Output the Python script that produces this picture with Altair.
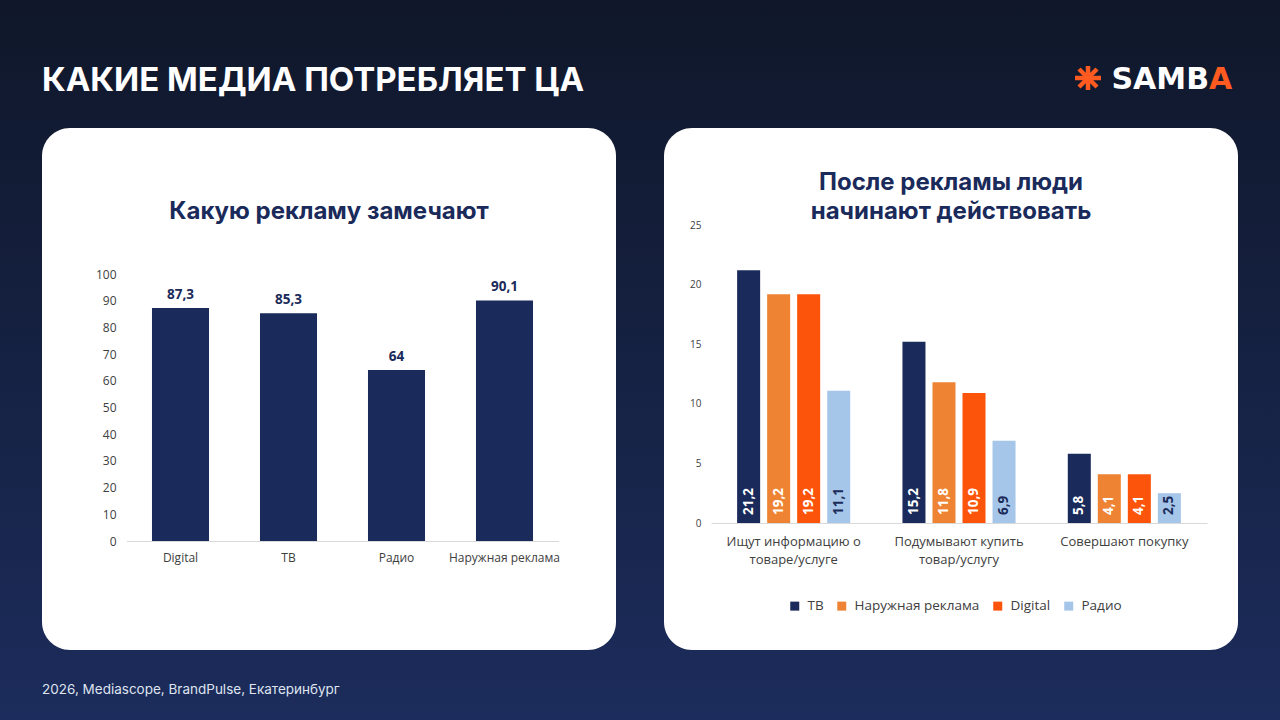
import altair as alt
import pandas as pd

# ---- data -------------------------------------------------------------
notice_media = ["Digital", "ТВ", "Радио", "Наружная реклама"]
notice_share = [87.3, 85.3, 64, 90.1]
left_ticks = [0, 10, 20, 30, 40, 50, 60, 70, 80, 90, 100]

stages = ["Ищут информацию о|товаре/услуге", "Подумывают купить|товар/услугу", "Совершают покупку"]
channels = ["ТВ", "Наружная реклама", "Digital", "Радио"]
channel_colors = ["#1a2a5a", "#ee8433", "#fd540b", "#a5c6e8"]
tv_values = [21.2, 15.2, 5.8]
outdoor_values = [19.2, 11.8, 4.1]
digital_values = [19.2, 10.9, 4.1]
radio_values = [11.1, 6.9, 2.5]
right_ticks = [0, 5, 10, 15, 20, 25]

NAVY = "#1a2a5a"
AXIS_TEXT = "#404040"
CHART_FONT = "Open Sans"
HEAD_FONT = "Inter"

left_df = pd.DataFrame({"media": notice_media, "share": notice_share})

rows = []
for ch, vals in zip(channels, [tv_values, outdoor_values, digital_values, radio_values]):
    for st, v in zip(stages, vals):
        rows.append({"stage": st, "channel": ch, "value": v})
right_df = pd.DataFrame(rows)

one = alt.Data(values=[{}])

# ---- slide decoration -------------------------------------------------
background = alt.Chart(one).mark_rect(
    fill=alt.LinearGradient(
        gradient="linear",
        stops=[alt.GradientStop(color="#0f1729", offset=0),
               alt.GradientStop(color="#1c2c5c", offset=1)],
        x1=0, x2=0, y1=0, y2=1,
    )
).encode(x=alt.value(0), x2=alt.value(1280), y=alt.value(0), y2=alt.value(720))

panel_left = alt.Chart(one).mark_rect(fill="white", cornerRadius=28).encode(
    x=alt.value(42), x2=alt.value(616), y=alt.value(128), y2=alt.value(650))
panel_right = alt.Chart(one).mark_rect(fill="white", cornerRadius=28).encode(
    x=alt.value(664), x2=alt.value(1238), y=alt.value(128), y2=alt.value(650))

heading = alt.Chart(one).mark_text(
    text="КАКИЕ МЕДИА ПОТРЕБЛЯЕТ ЦА", font=HEAD_FONT, fontSize=33, fontWeight=700,
    color="white", align="left", baseline="alphabetic",
).encode(x=alt.value(42), y=alt.value(91))

footer = alt.Chart(one).mark_text(
    text="2026, Mediascope, BrandPulse, Екатеринбург", font=HEAD_FONT, fontSize=13.5,
    color="#dfe4ef", align="left", baseline="alphabetic",
).encode(x=alt.value(42), y=alt.value(694))

# logo: eight-spoke asterisk + wordmark
LOGO_ORANGE = "#ff5a1f"
spokes = [
    alt.Chart(one).mark_rule(color=LOGO_ORANGE, strokeWidth=4.5).encode(
        x=alt.value(1075), x2=alt.value(1101), y=alt.value(78), y2=alt.value(78)),
    alt.Chart(one).mark_rule(color=LOGO_ORANGE, strokeWidth=4.5).encode(
        x=alt.value(1088), x2=alt.value(1088), y=alt.value(66), y2=alt.value(90)),
    alt.Chart(one).mark_rule(color=LOGO_ORANGE, strokeWidth=4.5).encode(
        x=alt.value(1079), x2=alt.value(1097), y=alt.value(69), y2=alt.value(87)),
    alt.Chart(one).mark_rule(color=LOGO_ORANGE, strokeWidth=4.5).encode(
        x=alt.value(1079), x2=alt.value(1097), y=alt.value(87), y2=alt.value(69)),
]
logo_word = alt.Chart(one).mark_text(
    text="SAMB", font="DejaVu Sans", fontSize=30, fontWeight="bold", color="white",
    align="right", baseline="alphabetic",
).encode(x=alt.value(1209), y=alt.value(89))
logo_a = alt.Chart(one).mark_text(
    text="A", font="DejaVu Sans", fontSize=30, fontWeight="bold", color=LOGO_ORANGE,
    align="left", baseline="alphabetic",
).encode(x=alt.value(1209), y=alt.value(89))

title_left = alt.Chart(one).mark_text(
    text="Какую рекламу замечают", font=HEAD_FONT, fontSize=24, fontWeight=700,
    color=NAVY, align="center", baseline="middle",
).encode(x=alt.value(329), y=alt.value(212))
title_right = alt.Chart(one).mark_text(
    text=["После рекламы люди", "начинают действовать"], font=HEAD_FONT, fontSize=24,
    fontWeight=700, color=NAVY, align="center", baseline="middle", lineHeight=29,
).encode(x=alt.value(951), y=alt.value(183))

# ---- left chart: which ads get noticed --------------------------------
x_left = alt.X(
    "media:N", sort=notice_media,
    scale=alt.Scale(range=[126.5, 558.5], paddingInner=0.472, paddingOuter=0.236),
    axis=alt.Axis(title=None, orient="bottom", offset=-179, labelAngle=0, ticks=False,
                  labelFontSize=12, labelFont=CHART_FONT, labelColor=AXIS_TEXT,
                  labelPadding=11, domainColor="#d9d9d9", domainWidth=1, grid=False,
                  zindex=1),
)
y_left = alt.Y(
    "share:Q",
    scale=alt.Scale(domain=[0, 100], range=[541, 274], nice=False, zero=True),
    axis=alt.Axis(title=None, orient="left", offset=-122, values=left_ticks, domain=False,
                  ticks=False, grid=False, labelFontSize=12, labelFont=CHART_FONT,
                  labelColor=AXIS_TEXT, labelPadding=6, zindex=1),
)
left_base = alt.Chart(left_df).encode(x=x_left, y=y_left)
left_bars = left_base.mark_bar(color=NAVY)
left_labels = left_base.transform_calculate(
    label="replace(toString(datum.share), '.', ',')"
).mark_text(baseline="bottom", dy=-6, font=CHART_FONT, fontSize=13.5, fontWeight="bold",
            color=NAVY).encode(text="label:N")
left_chart = alt.layer(left_bars, left_labels)

# ---- right chart: what people do after the ad -------------------------
x_right = alt.X(
    "stage:N", sort=stages,
    scale=alt.Scale(range=[711, 1207], paddingInner=0.316, paddingOuter=0.158),
    axis=alt.Axis(title=None, orient="bottom", offset=-197, labelAngle=0, ticks=False,
                  labelExpr="split(datum.label, '|')", labelFontSize=13,
                  labelLineHeight=18, labelFont=CHART_FONT, labelColor=AXIS_TEXT,
                  labelPadding=12, labelOverlap=False, labelLimit=300,
                  domainColor="#d9d9d9", domainWidth=1, grid=False, zindex=1),
)
x_off = alt.XOffset("channel:N", sort=channels,
                    scale=alt.Scale(domain=channels, paddingInner=0.2333, paddingOuter=0))
right_y_axis = alt.Axis(title=None, orient="left", offset=-707, values=right_ticks,
                        domain=False, ticks=False, grid=False, labelFontSize=10,
                        labelFont=CHART_FONT, labelColor=AXIS_TEXT, labelPadding=6,
                        zindex=1)
right_y_scale = alt.Scale(domain=[0, 25], range=[523, 225], nice=False, zero=True)

right_bars = alt.Chart(right_df).mark_bar().encode(
    x=x_right, xOffset=x_off,
    y=alt.Y("value:Q", scale=right_y_scale, axis=right_y_axis),
    color=alt.Color(
        "channel:N", sort=channels,
        scale=alt.Scale(domain=channels, range=channel_colors),
        legend=alt.Legend(title=None, orient="none", direction="horizontal",
                          legendX=788, legendY=599, symbolType="square", symbolSize=81,
                          symbolStrokeWidth=0, labelFontSize=13.5, labelFont=CHART_FONT,
                          labelColor=AXIS_TEXT, columnPadding=11, labelOffset=6,
                          padding=0),
    ),
)
right_labels = alt.Chart(right_df).transform_calculate(
    label="replace(toString(datum.value), '.', ',')", base="0"
).mark_text(angle=270, align="left", baseline="middle", dx=8, font=CHART_FONT,
            fontSize=13.5, fontWeight="bold").encode(
    x=x_right, xOffset=x_off,
    y=alt.Y("base:Q", scale=right_y_scale, axis=right_y_axis),
    text="label:N",
    color=alt.condition("datum.channel === 'Радио'", alt.value(NAVY), alt.value("white")),
)
right_chart = alt.layer(right_bars, right_labels)

chart = alt.layer(
    background, panel_left, panel_right, heading, footer, *spokes, logo_word, logo_a,
    title_left, title_right, left_chart, right_chart,
).resolve_scale(
    x="independent", y="independent", color="independent"
).resolve_axis(
    x="independent", y="independent"
).properties(
    width=1280, height=720, padding=0, autosize="none",
).configure_view(stroke=None)

chart.save("out.html", embed_options={"renderer": "svg", "actions": False})
